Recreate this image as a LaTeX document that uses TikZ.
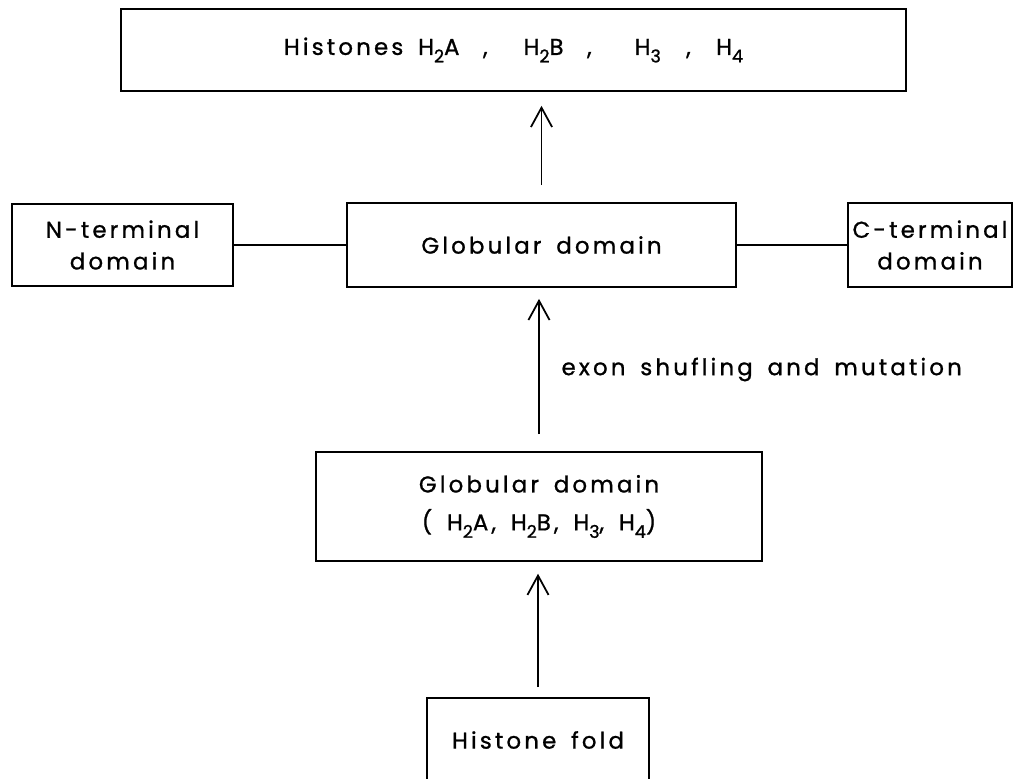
\documentclass[tikz,border=0pt]{standalone}
\usepackage{fontspec}
\setmainfont{Poppins}[LetterSpace=14, WordSpace=1.6, FakeBold=1]
\usetikzlibrary{arrows.meta}
\newcommand{\idx}[1]{\raisebox{-0.6ex}{\fontsize{10}{10}\selectfont #1}}

\begin{document}
\begin{tikzpicture}[x=0.02cm, y=-0.02cm, line width=0.9pt,
                    box/.style={draw, rectangle, inner sep=0pt, align=center, font=\fontsize{13}{21.6}\selectfont},
                    up/.style={-{Straight Barb[length=11pt, width=12pt]}, line width=1pt}]
                    \useasboundingbox (0,0) rectangle (1014,778);
                    \node[box, minimum width=15.7cm, minimum height=1.64cm] (hist) at (513.5,50) {Histones H\idx{2}A\hspace{5pt} ,\hspace{12pt} H\idx{2}B\hspace{5pt} ,\hspace{16pt} H\idx{3}\hspace{6pt} ,\hspace{6pt} H\idx{4}};
                    \node[box, minimum width=4.42cm, minimum height=1.64cm] (nterm) at (122.5,245) {N-terminal\\[-3.6pt]domain};
                    \node[box, minimum width=7.78cm, minimum height=1.68cm] (glob) at (541.5,245) {Globular domain};
                    \node[box, minimum width=3.28cm, minimum height=1.68cm] (cterm) at (930,245) {C-terminal\\[-3.6pt]domain};
                    \node[box, minimum width=8.92cm, minimum height=2.18cm] (glob2) at (539,506.5) {Globular domain\\( H\idx{2}A, H\idx{2}B, H\idx{3}, H\idx{4})};
                    \node[box, minimum width=4.44cm, minimum height=1.68cm] (fold) at (538,740) {Histone fold};

                    \draw (nterm) -- (glob);
                    \draw (glob) -- (cterm);
                    \draw[up, shorten <=9.7pt, shorten >=8pt] (glob.north) -- (glob.north |- hist.south);
                    \draw[up, shorten <=9.7pt, shorten >=6.3pt] (glob2.north) --node[right=9pt, font=\fontsize{13}{15}\selectfont] {exon shufling and mutation} (glob2.north |- glob.south);
                    \draw[up, shorten <=5.7pt, shorten >=6.8pt] (fold.north) -- (fold.north |- glob2.south);
                    %箭头%
                \end{tikzpicture}
\end{document}
